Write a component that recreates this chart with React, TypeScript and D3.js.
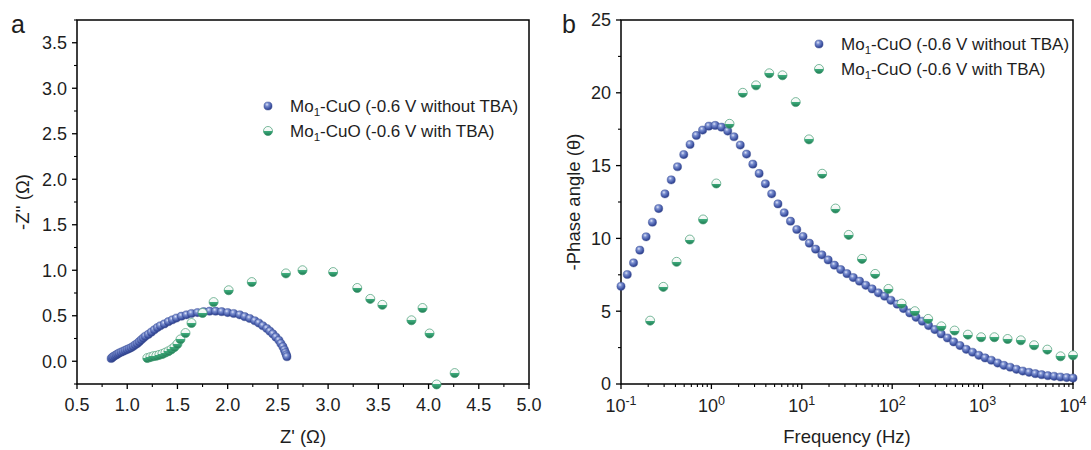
import React from 'react';
import * as d3 from 'd3';

// ---------- Panel a: Nyquist data ----------
const nyqBlueZre = [0.84, 0.85, 0.86, 0.875, 0.89, 0.905, 0.92, 0.94, 0.96, 0.98, 1.0, 1.02, 1.04, 1.06, 1.08, 1.1, 1.12, 1.14, 1.16, 1.18, 1.21, 1.24, 1.27, 1.3, 1.33, 1.37, 1.41, 1.45, 1.49, 1.54, 1.59, 1.64, 1.7, 1.76, 1.82, 1.88, 1.94, 2.0, 2.06, 2.12, 2.17, 2.22, 2.27, 2.31, 2.35, 2.39, 2.42, 2.45, 2.48, 2.51, 2.53, 2.55, 2.565, 2.575, 2.585, 2.59];
const nyqBlueZim = [0.03, 0.04, 0.05, 0.06, 0.07, 0.08, 0.09, 0.1, 0.11, 0.12, 0.13, 0.14, 0.15, 0.165, 0.18, 0.195, 0.215, 0.235, 0.255, 0.275, 0.295, 0.32, 0.345, 0.37, 0.39, 0.41, 0.435, 0.455, 0.475, 0.495, 0.51, 0.525, 0.535, 0.545, 0.55, 0.55, 0.545, 0.535, 0.525, 0.51, 0.49, 0.47, 0.445, 0.42, 0.39, 0.36, 0.33, 0.3, 0.265, 0.23, 0.195, 0.16, 0.125, 0.095, 0.07, 0.05];
const nyqGreenZre = [1.2, 1.23, 1.26, 1.29, 1.32, 1.35, 1.38, 1.41, 1.44, 1.47, 1.5, 1.53, 1.58, 1.64, 1.75, 1.86, 2.01, 2.24, 2.58, 2.745, 3.05, 3.29, 3.42, 3.54, 3.83, 3.94, 4.01, 4.08, 4.26];
const nyqGreenZim = [0.035, 0.045, 0.055, 0.06, 0.07, 0.08, 0.095, 0.11, 0.13, 0.155, 0.19, 0.24, 0.31, 0.42, 0.53, 0.65, 0.78, 0.87, 0.965, 1.0, 0.98, 0.805, 0.685, 0.62, 0.45, 0.585, 0.305, -0.255, -0.13];

// ---------- Panel b: Bode phase data ----------
const bodeBlueFreq = [0.1, 0.1173, 0.1377, 0.1616, 0.1896, 0.2225, 0.261, 0.3063, 0.3594, 0.4217, 0.4948, 0.5806, 0.6813, 0.7994, 0.938, 1.101, 1.292, 1.516, 1.778, 2.086, 2.448, 2.873, 3.371, 3.955, 4.642, 5.446, 6.391, 7.499, 8.799, 10.32, 12.12, 14.22, 16.68, 19.57, 22.97, 26.95, 31.62, 37.11, 43.54, 51.09, 59.95, 70.35, 82.54, 96.85, 113.6, 133.4, 156.4, 183.6, 215.4, 252.8, 296.6, 348.1, 408.4, 479.2, 562.3, 659.8, 774.3, 908.6, 1066, 1251, 1468, 1722, 2021, 2371, 2783, 3265, 3831, 4496, 5275, 6190, 7264, 8523, 10000];
const bodeBluePhase = [6.71, 7.52, 8.32, 9.19, 10.11, 11.11, 12.05, 13.06, 14.02, 14.92, 15.76, 16.45, 17.07, 17.44, 17.71, 17.76, 17.64, 17.37, 16.98, 16.41, 15.79, 15.1, 14.46, 13.75, 13.06, 12.37, 11.76, 11.18, 10.61, 10.13, 9.67, 9.26, 8.87, 8.52, 8.16, 7.86, 7.58, 7.31, 7.06, 6.78, 6.53, 6.26, 6.03, 5.75, 5.48, 5.18, 4.88, 4.58, 4.31, 4.01, 3.74, 3.44, 3.16, 2.89, 2.64, 2.38, 2.18, 1.97, 1.79, 1.63, 1.44, 1.28, 1.15, 1.01, 0.89, 0.8, 0.71, 0.64, 0.57, 0.53, 0.48, 0.44, 0.41];
const bodeGreenFreq = [0.21, 0.294, 0.412, 0.577, 0.809, 1.133, 1.587, 2.224, 3.116, 4.365, 6.116, 8.568, 12.0, 16.8, 23.6, 33.0, 46.3, 64.8, 90.8, 127, 178, 250, 350, 490, 687, 963, 1349, 1890, 2648, 3710, 5198, 7282, 10000];
const bodeGreenPhase = [4.35, 6.67, 8.39, 9.92, 11.3, 13.77, 17.87, 20.0, 20.51, 21.34, 21.2, 19.36, 16.8, 14.44, 12.05, 10.24, 8.59, 7.56, 6.53, 5.52, 5.0, 4.47, 3.96, 3.67, 3.39, 3.21, 3.21, 3.09, 3.0, 2.66, 2.36, 1.9, 1.97];

// ---------- Ticks & labels ----------
const nyqXTicks = [0.5, 1.0, 1.5, 2.0, 2.5, 3.0, 3.5, 4.0, 4.5, 5.0];
const nyqXMinor = [0.75, 1.25, 1.75, 2.25, 2.75, 3.25, 3.75, 4.25, 4.75];
const nyqYTicks = [0.0, 0.5, 1.0, 1.5, 2.0, 2.5, 3.0, 3.5];
const nyqYMinor = [-0.25, 0.25, 0.75, 1.25, 1.75, 2.25, 2.75, 3.25, 3.75];
const bodeYTicks = [0, 5, 10, 15, 20, 25];
const bodeYMinor = [2.5, 7.5, 12.5, 17.5, 22.5];
const bodeXExps = [-1, 0, 1, 2, 3, 4];
const legendSuffix = ['(-0.6 V without TBA)', '(-0.6 V with TBA)'];

const FONT = 'Liberation Sans, Arial, Helvetica, sans-serif';
const TXT = '#1e1e1e';
const TICK_FS = 18;
const TITLE_FS = 18.5;
const LEG_FS = 17;

const [l, r, t, b] = [77, 529, 20, 384];
const [l2, r2] = [621, 1073];

const xL = d3.scaleLinear().domain([0.5, 5.0]).range([l, r]);
const yL = d3.scaleLinear().domain([-0.25, 3.75]).range([b, t]);
const xR = d3.scaleLog().domain([0.1, 10000]).range([l2, r2]);
const yR = d3.scaleLinear().domain([0, 25]).range([b, t]);

const BlueDot = ({ cx, cy }: { cx: number; cy: number }) => (
  <circle cx={cx} cy={cy} r={4.1} fill="url(#blueBall)" stroke="#34498f" strokeWidth={0.4} />
);
const GreenDot = ({ cx, cy }: { cx: number; cy: number }) => (
  <circle cx={cx} cy={cy} r={4.5} fill="url(#greenHalf)" stroke="#3f9a70" strokeWidth={0.7} />
);

const Legend = ({ x, y }: { x: number; y: number }) => (
  <g>
    {legendSuffix.map((s, i) => (
      <g key={i} transform={`translate(${x},${y + i * 25})`}>
        {i === 0 ? <BlueDot cx={0} cy={0} /> : <GreenDot cx={0} cy={0} />}
        <text x={22} y={0} dy="0.36em" fontSize={LEG_FS} fontFamily={FONT} fill={TXT}>
          Mo
          <tspan fontSize={11.5} dy={4}>1</tspan>
          <tspan dy={-4}>{'-CuO ' + s}</tspan>
        </text>
      </g>
    ))}
  </g>
);

export default function App() {
  const minorLog: number[] = [];
  for (let e = -1; e < 4; e++) for (let m = 2; m <= 9; m++) minorLog.push(m * Math.pow(10, e));

  return (
    <svg width={1091} height={450} style={{ position: 'absolute', left: 0, top: 0, background: '#fff' }}>
      <defs>
        <radialGradient id="blueBall" cx="0.38" cy="0.32" r="0.72">
          <stop offset="0" stopColor="#dfe5f7" />
          <stop offset="0.3" stopColor="#7b8fd0" />
          <stop offset="0.75" stopColor="#3d52a2" />
          <stop offset="1" stopColor="#2b3b82" />
        </radialGradient>
        <linearGradient id="greenHalf" x1="0" y1="0" x2="0" y2="1">
          <stop offset="0" stopColor="#ffffff" />
          <stop offset="0.5" stopColor="#eef5f1" />
          <stop offset="0.5" stopColor="#3fae7e" />
          <stop offset="1" stopColor="#1e7a52" />
        </linearGradient>
      </defs>
      <rect x={0} y={0} width={1091} height={450} fill="#fff" />

      {/* ===== Panel a ===== */}
      <text x={11} y={33} fontSize={25} fontFamily={FONT} fill={TXT}>a</text>
      {nyqXTicks.map((v) => (
        <g key={'xl' + v}>
          <line x1={xL(v)} x2={xL(v)} y1={b} y2={b + 5} stroke="#000" strokeWidth={1.3} />
          <text x={xL(v)} y={411} textAnchor="middle" fontSize={TICK_FS} fontFamily={FONT} fill={TXT}>{v.toFixed(1)}</text>
        </g>
      ))}
      {nyqXMinor.map((v) => (
        <line key={'xlm' + v} x1={xL(v)} x2={xL(v)} y1={b} y2={b + 3} stroke="#000" strokeWidth={1.1} />
      ))}
      {nyqYTicks.map((v) => (
        <g key={'yl' + v}>
          <line x1={l - 5} x2={l} y1={yL(v)} y2={yL(v)} stroke="#000" strokeWidth={1.3} />
          <text x={l - 10} y={yL(v)} dy="0.36em" textAnchor="end" fontSize={TICK_FS} fontFamily={FONT} fill={TXT}>{v.toFixed(1)}</text>
        </g>
      ))}
      {nyqYMinor.map((v) => (
        <line key={'ylm' + v} x1={l - 3} x2={l} y1={yL(v)} y2={yL(v)} stroke="#000" strokeWidth={1.1} />
      ))}
      <rect x={l} y={t} width={r - l} height={b - t} fill="none" stroke="#000" strokeWidth={1.5} />
      <text x={(l + r) / 2} y={443} textAnchor="middle" fontSize={TITLE_FS} fontFamily={FONT} fill={TXT}>Z' (Ω)</text>
      <text transform={`translate(29,${(t + b) / 2}) rotate(-90)`} textAnchor="middle" fontSize={TITLE_FS} fontFamily={FONT} fill={TXT}>-Z'' (Ω)</text>
      {nyqBlueZre.map((v, i) => (
        <BlueDot key={'nb' + i} cx={xL(v)} cy={yL(nyqBlueZim[i])} />
      ))}
      {nyqGreenZre.map((v, i) => (
        <GreenDot key={'ng' + i} cx={xL(v)} cy={yL(nyqGreenZim[i])} />
      ))}
      <Legend x={268} y={106} />

      {/* ===== Panel b ===== */}
      <text x={562} y={33} fontSize={25} fontFamily={FONT} fill={TXT}>b</text>
      {bodeXExps.map((e) => (
        <g key={'xr' + e}>
          <line x1={xR(Math.pow(10, e))} x2={xR(Math.pow(10, e))} y1={b} y2={b + 5} stroke="#000" strokeWidth={1.3} />
          <text x={xR(Math.pow(10, e))} y={412} textAnchor="middle" fontSize={TICK_FS} fontFamily={FONT} fill={TXT}>
            10<tspan fontSize={12.5} dy={-7.5}>{String(e)}</tspan>
          </text>
        </g>
      ))}
      {minorLog.map((v, i) => (
        <line key={'xrm' + i} x1={xR(v)} x2={xR(v)} y1={b} y2={b + 3} stroke="#000" strokeWidth={1.1} />
      ))}
      {bodeYTicks.map((v) => (
        <g key={'yr' + v}>
          <line x1={l2 - 5} x2={l2} y1={yR(v)} y2={yR(v)} stroke="#000" strokeWidth={1.3} />
          <text x={l2 - 10} y={yR(v)} dy="0.36em" textAnchor="end" fontSize={TICK_FS} fontFamily={FONT} fill={TXT}>{v}</text>
        </g>
      ))}
      {bodeYMinor.map((v) => (
        <line key={'yrm' + v} x1={l2 - 3} x2={l2} y1={yR(v)} y2={yR(v)} stroke="#000" strokeWidth={1.1} />
      ))}
      <rect x={l2} y={t} width={r2 - l2} height={b - t} fill="none" stroke="#000" strokeWidth={1.5} />
      <text x={(l2 + r2) / 2} y={443} textAnchor="middle" fontSize={TITLE_FS} fontFamily={FONT} fill={TXT}>Frequency (Hz)</text>
      <text transform={`translate(580,${(t + b) / 2}) rotate(-90)`} textAnchor="middle" fontSize={TITLE_FS} fontFamily={FONT} fill={TXT}>-Phase angle (θ)</text>
      {bodeBlueFreq.map((f, i) => (
        <BlueDot key={'bb' + i} cx={xR(f)} cy={yR(bodeBluePhase[i])} />
      ))}
      {bodeGreenFreq.map((f, i) => (
        <GreenDot key={'bg' + i} cx={xR(f)} cy={yR(bodeGreenPhase[i])} />
      ))}
      <Legend x={819} y={44} />
    </svg>
  );
}
